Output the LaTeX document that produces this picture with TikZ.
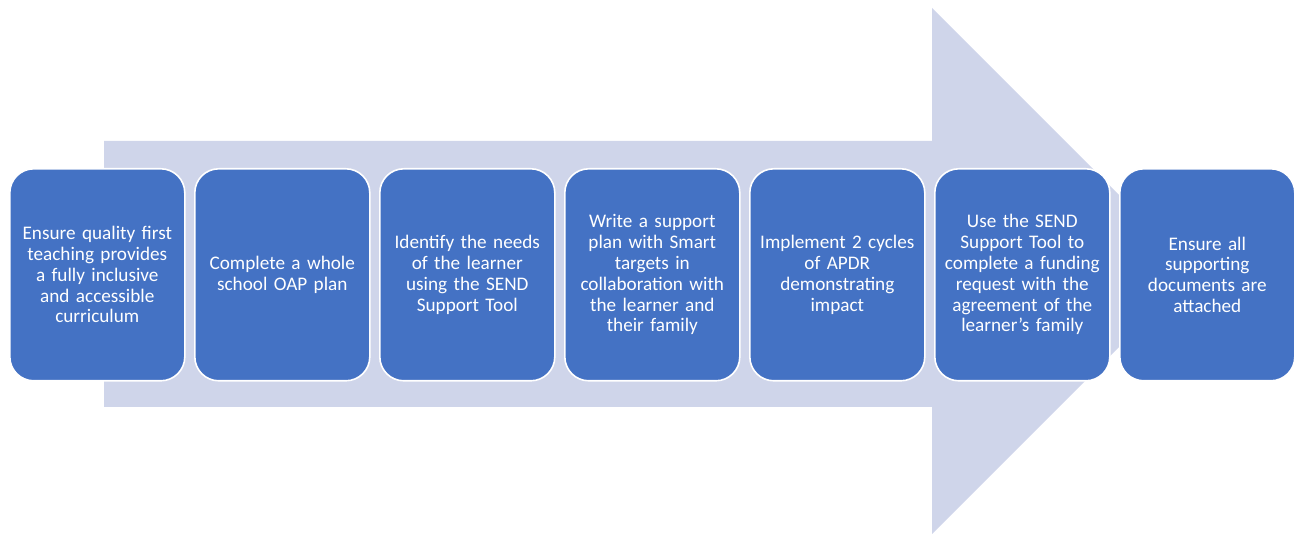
\documentclass[tikz,border=0pt]{standalone}
\usepackage{fontspec}
\setmainfont{Carlito}
\definecolor{stepblue}{HTML}{4472C4}
\definecolor{arrowfill}{HTML}{CFD5EA}
\begin{document}
\begin{tikzpicture}[x=1pt,y=-1pt,
  stepbox/.style={draw=white, line width=1.6pt, fill=stepblue, rounded corners=24pt,
    minimum width=175pt, minimum height=212pt, anchor=north west, inner sep=0pt,
    text=white, align=center, text width=172pt,
    font=\fontsize{19.2}{20.8}\selectfont}]
\useasboundingbox (0,0) rectangle (1296,534);
% background block arrow
\fill[arrowfill] (104,141) -- (932,141) -- (932,8) -- (1195,271) -- (932,534)
  -- (932,407) -- (104,407) -- cycle;
% process steps
\node[stepbox] (s1) at (9,168) {Ensure quality first\\teaching provides\\a fully inclusive\\and accessible\\curriculum};
\node[stepbox] (s2) at (194,168) {Complete a whole\\school OAP plan};
\node[stepbox] (s3) at (379,168) {Identify the needs\\of the learner\\using the SEND\\Support Tool};
\node[stepbox] (s4) at (564,168) {Write a support\\plan with Smart\\targets in\\collaboration with\\the learner and\\their family};
\node[stepbox] (s5) at (749,168) {Implement 2 cycles\\of APDR\\demonstrating\\impact};
\node[stepbox] (s6) at (934,168) {Use the SEND\\Support Tool to\\complete a funding\\request with the\\agreement of the\\learner’s family};
\node[stepbox] (s7) at (1119,168) {Ensure all\\supporting\\documents are\\attached};
\end{tikzpicture}
\end{document}
